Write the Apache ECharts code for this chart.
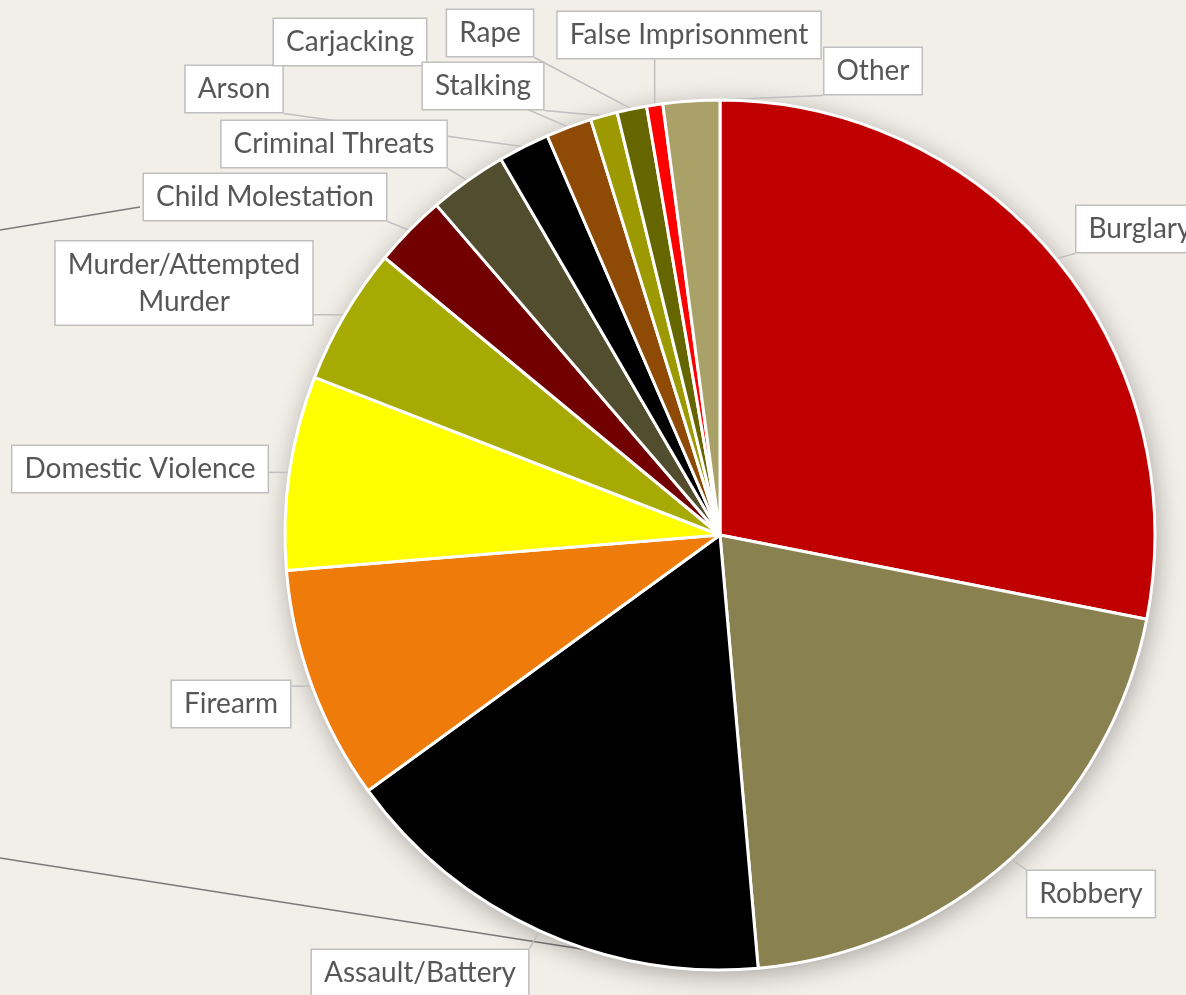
<!DOCTYPE html>
<html>
<head>
<meta charset="utf-8">
<script src="https://cdn.jsdelivr.net/npm/echarts@6/dist/echarts.min.js"></script>
<style>
  html, body { margin: 0; padding: 0; background: #f2eee8; }
  #main { width: 1186px; height: 995px; }
</style>
</head>
<body>
<div id="main"></div>
<script>
    // share of cases by type (percent), clockwise from 12 o'clock
    var categories = ['Burglary', 'Robbery', 'Assault/Battery', 'Firearm', 'Domestic Violence',
        'Murder/Attempted\nMurder', 'Child Molestation', 'Criminal Threats', 'Arson', 'Carjacking',
        'Stalking', 'Rape', 'False Imprisonment', 'Other'];
    var shares = [28.1, 20.5, 16.4, 8.7, 7.2, 5.1, 2.7, 2.9, 1.9, 1.7, 1.0, 1.1, 0.6, 2.1];
    var sliceColors = ['#c00000', '#89814f', '#000000', '#ee7b0a', '#ffff00', '#a8aa04', '#730000',
        '#524d2f', '#000000', '#8f4a05', '#9c9a00', '#666600', '#ff0000', '#a9a167'];

    // callout boxes were placed by hand in the original, centre of each box
    var labelSpots = [[1140, 229], [1091, 894], [420, 973], [231, 704], [140, 469], [184, 283],
        [265, 197], [334, 144], [234, 89], [350, 42], [483, 86], [490, 33], [689, 35], [873, 71]];

    var chart = echarts.init(document.getElementById('main'));

    var pieData = categories.map(function (name, i) {
        return { name: name, value: shares[i], itemStyle: { color: sliceColors[i] } };
    });

    chart.setOption({
        backgroundColor: '#f2eee8',
        animation: false,
        graphic: [
            // stray leader lines from labels outside the crop
            { type: 'line', z: 0, shape: { x1: 0, y1: 230, x2: 140, y2: 207 }, style: { stroke: '#7a7a7a', lineWidth: 1.5 } },
            { type: 'line', z: 0, shape: { x1: 0, y1: 858, x2: 620, y2: 955 }, style: { stroke: '#7a7a7a', lineWidth: 1.5 } }
        ],
        series: [
            {
                // soft shadow under the whole pie
                type: 'pie',
                silent: true,
                z: 1,
                center: [720, 535],
                radius: 435,
                label: { show: false },
                labelLine: { show: false },
                itemStyle: {
                    color: '#ffffff',
                    shadowBlur: 26,
                    shadowColor: 'rgba(0,0,0,0.32)',
                    shadowOffsetX: 2,
                    shadowOffsetY: 5
                },
                data: [{ value: 1, name: '' }]
            },
            {
                type: 'pie',
                z: 3,
                center: [720, 535],
                radius: 435,
                startAngle: 90,
                clockwise: true,
                avoidLabelOverlap: false,
                itemStyle: { borderColor: '#ffffff', borderWidth: 3 },
                label: {
                    show: true,
                    position: 'outside',
                    formatter: '{b}',
                    color: '#575757',
                    fontFamily: 'Lato',
                    fontSize: 28,
                    lineHeight: 37,
                    align: 'center',
                    backgroundColor: '#ffffff',
                    borderColor: '#bfbfbf',
                    borderWidth: 1.5,
                    padding: [5, 12, 4, 12]
                },
                labelLine: {
                    show: true,
                    lineStyle: { color: '#bfbfbf', width: 1.5 }
                },
                labelLayout: function (params) {
                    var spot = labelSpots[params.dataIndex];
                    var w = params.labelRect.width, h = params.labelRect.height;
                    var left = spot[0] - w / 2, top = spot[1] - h / 2;
                    var a = params.labelLinePoints[0];
                    var ex = Math.min(Math.max(a[0], left), left + w);
                    var ey = Math.min(Math.max(a[1], top), top + h);
                    return {
                        x: spot[0],
                        y: spot[1],
                        align: 'center',
                        verticalAlign: 'middle',
                        labelLinePoints: [a, [(a[0] + ex) / 2, (a[1] + ey) / 2], [ex, ey]]
                    };
                },
                data: pieData
            }
        ]
    });
</script>
</body>
</html>
